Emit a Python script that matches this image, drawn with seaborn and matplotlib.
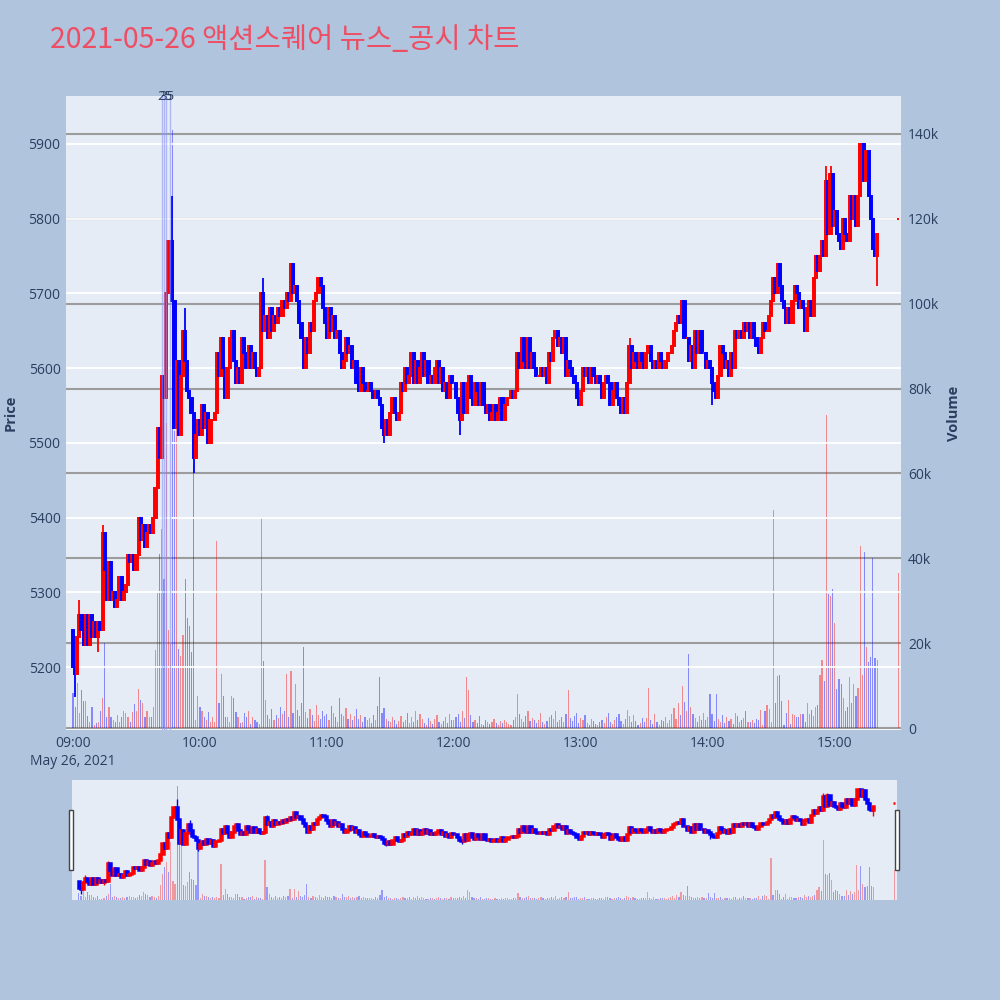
import matplotlib
matplotlib.use("Agg")
import matplotlib.pyplot as plt
from matplotlib.patches import Rectangle
import numpy as np
import pandas as pd
import seaborn as sns

# 1분봉 종가 (09:00 ~ 15:20)
closes = [
    5200, 5190, 5240, 5270, 5250, 5230, 5270, 5230, 5270, 5240,
    5260, 5240, 5260, 5250, 5380, 5330, 5290, 5340, 5290, 5300,
    5280, 5290, 5320, 5290, 5300, 5310, 5350, 5340, 5350, 5330,
    5350, 5400, 5370, 5390, 5360, 5380, 5390, 5380, 5400, 5440,
    5520, 5480, 5590, 5560, 5700, 5770, 5770, 5690, 5520, 5610,
    5510, 5590, 5650, 5610, 5570, 5560, 5540, 5480, 5510, 5530,
    5510, 5550, 5520, 5540, 5500, 5530, 5530, 5540, 5620, 5590,
    5640, 5600, 5560, 5600, 5640, 5650, 5610, 5580, 5600, 5580,
    5640, 5620, 5600, 5630, 5600, 5620, 5600, 5590, 5600, 5700,
    5650, 5670, 5640, 5680, 5650, 5670, 5660, 5680, 5670, 5690,
    5680, 5700, 5690, 5740, 5700, 5710, 5690, 5660, 5640, 5600,
    5640, 5620, 5660, 5650, 5690, 5700, 5720, 5710, 5680, 5660,
    5640, 5680, 5650, 5670, 5640, 5650, 5620, 5600, 5610, 5640,
    5620, 5630, 5600, 5610, 5580, 5570, 5600, 5580, 5570, 5570,
    5580, 5570, 5560, 5570, 5560, 5550, 5520, 5510, 5530, 5510,
    5540, 5560, 5540, 5530, 5540, 5580, 5570, 5600, 5580, 5590,
    5620, 5580, 5610, 5580, 5600, 5620, 5590, 5610, 5580, 5590,
    5580, 5600, 5610, 5580, 5600, 5570, 5580, 5560, 5590, 5580,
    5580, 5560, 5540, 5530, 5580, 5540, 5580, 5590, 5560, 5550,
    5580, 5570, 5550, 5580, 5550, 5540, 5550, 5530, 5540, 5550,
    5530, 5540, 5560, 5530, 5550, 5560, 5560, 5570, 5560, 5570,
    5620, 5600, 5640, 5610, 5600, 5640, 5600, 5620, 5600, 5590,
    5590, 5600, 5590, 5600, 5580, 5620, 5610, 5640, 5650, 5630,
    5640, 5620, 5640, 5590, 5610, 5600, 5590, 5580, 5560, 5550,
    5570, 5600, 5590, 5600, 5580, 5600, 5590, 5580, 5590, 5580,
    5560, 5580, 5590, 5580, 5550, 5570, 5580, 5560, 5550, 5540,
    5560, 5540, 5580, 5630, 5600, 5620, 5610, 5600, 5620, 5610,
    5600, 5620, 5630, 5610, 5600, 5610, 5600, 5620, 5610, 5600,
    5610, 5620, 5620, 5630, 5650, 5660, 5670, 5660, 5690, 5640,
    5640, 5610, 5630, 5600, 5650, 5620, 5650, 5620, 5620, 5600,
    5610, 5600, 5580, 5570, 5560, 5590, 5630, 5620, 5600, 5610,
    5590, 5620, 5600, 5650, 5640, 5650, 5640, 5660, 5650, 5660,
    5640, 5660, 5640, 5630, 5620, 5640, 5660, 5650, 5650, 5670,
    5690, 5720, 5700, 5740, 5710, 5690, 5680, 5660, 5680, 5660,
    5690, 5710, 5700, 5680, 5690, 5680, 5650, 5680, 5690, 5670,
    5720, 5750, 5730, 5750, 5770, 5750, 5850, 5780, 5860, 5790,
    5810, 5780, 5770, 5760, 5800, 5780, 5770, 5830, 5800, 5830,
    5790, 5830, 5900, 5900, 5850, 5890, 5830, 5800, 5760, 5750, 5780,
]
first_open = 5250
close_auction = 5800

# 꼬리 (분 index: 가격)
high_wicks = {3: 5290, 14: 5390, 47: 5830, 53: 5680, 90: 5720, 136: 5600,
              263: 5640, 288: 5690, 356: 5870, 358: 5870}
low_wicks = {1: 5160, 12: 5220, 57: 5460, 147: 5500, 150: 5510, 183: 5510,
             302: 5550, 380: 5710}

# 거래량 (천주)
volumes_k = [
    8.2, 5.0, 10.6, 3.5, 9.0, 6.3, 6.3, 2.8, 1.5, 4.9,
    0.7, 1.2, 1.5, 4.0, 7.0, 20.0, 2.7, 5.0, 2.7, 2.0,
    1.5, 3.0, 1.5, 2.7, 4.0, 3.5, 2.7, 1.5, 3.8, 5.7,
    4.0, 9.2, 6.6, 6.0, 2.7, 4.0, 2.7, 2.5, 5.0, 18.4,
    32.0, 41.0, 47.0, 35.0, 72.0, 23.0, 20.0, 141.0, 70.0, 72.0,
    18.7, 17.0, 22.0, 35.0, 26.0, 24.0, 18.0, 62.0, 2.0, 7.5,
    5.0, 4.0, 2.7, 2.0, 3.8, 1.5, 2.7, 1.5, 44.0, 6.0,
    12.7, 7.5, 2.7, 2.7, 1.5, 7.5, 7.0, 3.8, 2.7, 1.2,
    1.5, 3.5, 2.7, 4.0, 1.0, 2.7, 2.0, 1.5, 1.0, 49.8,
    15.9, 6.5, 3.0, 2.2, 4.5, 1.8, 3.1, 2.4, 5.0, 3.3,
    4.0, 12.7, 2.5, 13.5, 3.5, 10.3, 4.2, 2.8, 6.0, 19.0,
    3.8, 2.4, 4.5, 3.1, 1.6, 5.5, 3.0, 2.2, 4.1, 2.9,
    3.3, 2.0, 5.1, 3.6, 2.5, 1.4, 7.0, 3.2, 2.8, 4.6,
    2.1, 3.4, 1.8, 2.9, 4.4, 2.2, 3.0, 1.5, 2.6, 1.9,
    2.4, 1.2, 3.1, 2.0, 5.2, 12.0, 3.5, 4.8, 2.2, 1.7,
    1.3, 2.5, 1.8, 0.9, 1.6, 2.8, 1.4, 2.0, 3.6, 1.1,
    2.7, 1.5, 4.0, 1.9, 3.3, 2.1, 1.2, 0.8, 2.4, 1.6,
    1.0, 2.2, 3.0, 1.4, 0.9, 1.7, 2.5, 1.2, 3.4, 2.0,
    1.8, 2.6, 3.2, 1.5, 4.0, 2.3, 12.0, 9.0, 3.1, 1.4,
    2.0, 1.2, 2.8, 1.0, 0.7, 1.9, 1.5, 0.9, 1.3, 2.2,
    1.1, 0.8, 1.6, 1.2, 2.0, 1.4, 1.0, 0.7, 1.8, 2.6,
    8.0, 3.2, 2.1, 1.5, 2.8, 3.9, 1.6, 2.4, 1.8, 1.1,
    2.0, 3.5, 1.4, 0.9, 1.7, 2.6, 3.1, 2.2, 4.0, 1.3,
    1.9, 2.7, 1.5, 3.4, 9.0, 2.3, 1.6, 2.9, 3.5, 1.2,
    2.4, 1.8, 3.0, 1.1, 0.8, 2.2, 1.6, 1.0, 0.6, 1.4,
    2.0, 1.2, 2.7, 3.6, 1.5, 0.9, 1.8, 2.5, 3.2, 1.6,
    1.0, 2.1, 4.2, 2.8, 1.4, 3.0, 1.7, 0.8, 1.2, 2.3,
    1.5, 2.4, 9.5, 1.9, 1.0, 3.2, 1.3, 0.7, 2.0, 1.6,
    2.6, 1.2, 1.8, 3.4, 4.6, 2.2, 5.8, 3.0, 10.0, 6.2,
    4.1, 17.5, 5.0, 3.3, 2.4, 1.5, 2.9, 1.8, 3.6, 2.0,
    2.5, 8.0, 3.2, 1.7, 8.0, 2.1, 1.4, 3.0, 1.1, 2.6,
    1.6, 2.2, 0.9, 3.5, 2.8, 1.3, 1.9, 2.4, 3.9, 1.5,
    1.5, 1.8, 1.1, 2.1, 1.9, 4.2, 0.8, 4.0, 5.5, 4.5, 1.3,
    51.4, 5.8, 12.3, 12.5, 6.4, 0.8, 3.6, 6.5, 1.0, 3.3,
    3.0, 2.5, 2.6, 3.3, 3.3, 1.5, 5.8, 3.3, 4.2, 2.8,
    5.0, 5.4, 12.5, 16.0, 11.0,
    73.8, 31.6, 31.0, 32.7, 24.8, 9.2, 11.5, 10.4, 7.0, 4.0,
    5.0, 12.0, 5.8, 10.3, 7.5, 9.4, 43.0, 12.5, 41.5, 19.0,
    15.6, 16.8, 40.0, 16.4, 16.0,
]
close_auction_volume_k = 36.6

news_times = ["09:42", "09:43", "09:44", "09:46"]
news_labels = {"09:43": "25", "09:44": "35"}

hour_ticks = ["09:00", "10:00", "11:00", "12:00", "13:00", "14:00", "15:00"]
price_ticks = [5200, 5300, 5400, 5500, 5600, 5700, 5800, 5900]
vol_ticks = [0, 20000, 40000, 60000, 80000, 100000, 120000, 140000]
vol_tick_labels = ["0", "20k", "40k", "60k", "80k", "100k", "120k", "140k"]

assert len(closes) == len(volumes_k)

# ---- 데이터프레임 구성 ----
start = pd.Timestamp("2021-05-26 09:00")
times = list(pd.date_range(start, periods=len(closes), freq="min"))
times.append(pd.Timestamp("2021-05-26 15:30"))
df = pd.DataFrame({"time": times})
df["close"] = closes + [close_auction]
df["open"] = [first_open] + closes[:-1] + [close_auction]
df["volume"] = np.array(volumes_k + [close_auction_volume_k]) * 1000
df["minute"] = (df["time"] - start).dt.total_seconds() / 60
df["high"] = df[["open", "close"]].max(axis=1)
df["low"] = df[["open", "close"]].min(axis=1)
for i, v in high_wicks.items():
    df.loc[i, "high"] = max(df.loc[i, "high"], v)
for i, v in low_wicks.items():
    df.loc[i, "low"] = min(df.loc[i, "low"], v)
df["dir"] = np.where(df["close"] > df["open"], "up", "down")
df.loc[df["close"] == df["open"], "dir"] = "up"

UP = "#FF0000"
DOWN = "#0000FF"
colors = df["dir"].map({"up": UP, "down": DOWN})

TEXT = "#2a3f5f"
PLOT_BG = "#E5ECF6"
PAPER_BG = "#B0C4DE"

sns.set_theme(style="darkgrid")
plt.rcParams["font.family"] = ["Open Sans", "Noto Sans CJK KR", "DejaVu Sans"]

fig = plt.figure(figsize=(10, 10), dpi=100, facecolor=PAPER_BG)

xlim = (-3.3, 391.3)
price_lim = (5115.7, 5964.2)
vol_lim = (-470, 148950)


def draw_candles(ax, wick_lw, body_lw, body_w):
    ax.vlines(df["minute"], df["low"], df["high"], colors=colors, lw=wick_lw, zorder=3)
    body_bottom = df[["open", "close"]].min(axis=1)
    body_h = (df["close"] - df["open"]).abs()
    ax.bar(df["minute"], body_h, bottom=body_bottom, width=body_w, color=colors,
           edgecolor=colors, linewidth=body_lw, zorder=4)


def draw_volume(ax, alpha, width):
    sns.barplot(data=df, x="minute", y="volume", hue="dir", hue_order=["up", "down"],
                palette={"up": UP, "down": DOWN}, native_scale=True, dodge=False,
                width=width, alpha=alpha, saturation=1, errorbar=None, legend=False,
                linewidth=0, ax=ax)


# ---- 메인 차트 ----
ax = fig.add_axes([0.066, 0.270, 0.835, 0.634])
axv = ax.twinx()
axv.set_zorder(1)
ax.set_zorder(2)
ax.patch.set_visible(False)
axv.patch.set_visible(True)
axv.patch.set_facecolor(PLOT_BG)

draw_volume(axv, 0.42, 0.55)
axv.axhline(0, color="white", lw=2, zorder=0)
axv.set_ylim(*vol_lim)
axv.set_yticks(vol_ticks)
axv.set_yticklabels(vol_tick_labels)
axv.grid(axis="y", color="#9c9c9c", lw=1.5)
axv.grid(axis="x", visible=False)
axv.set_ylabel("")
axv.set_xlabel("")

draw_candles(ax, 1.3, 1.4, 1.0)
ax.set_ylim(*price_lim)
ax.set_yticks(price_ticks)
ax.grid(axis="y", color="white", lw=1.3)
ax.grid(axis="x", visible=False)

hour_minutes = [(pd.Timestamp("2021-05-26 " + h) - start).total_seconds() / 60 for h in hour_ticks]
ax.set_xticks(hour_minutes)
ax.set_xticklabels([hour_ticks[0] + "\nMay 26, 2021"] + hour_ticks[1:], linespacing=1.35)
ax.set_xlim(*xlim)
axv.set_xlim(*xlim)

# 뉴스/공시 표시선
for t in news_times:
    m = (pd.Timestamp("2021-05-26 " + t) - start).total_seconds() / 60
    ax.axvline(m, color="#8c96f5", lw=1.0, alpha=0.6, zorder=5)
    if t in news_labels:
        ax.text(m + 0.4, 1.0, news_labels[t], transform=ax.get_xaxis_transform(),
                ha="center", va="center", fontsize=9.5, color=TEXT, zorder=6)

for a in (ax, axv):
    for s in a.spines.values():
        s.set_visible(False)
    a.tick_params(length=0, colors=TEXT, labelsize=10)
ax.tick_params(axis="y", pad=4)
ax.tick_params(axis="x", pad=4)
axv.tick_params(axis="y", pad=5)

fig.text(0.011, 0.587, "Price", rotation=90, ha="center", va="center",
         fontsize=10.5, fontweight="bold", color=TEXT)
fig.text(0.954, 0.587, "Volume", rotation=90, ha="center", va="center",
         fontsize=10.5, fontweight="bold", color=TEXT)

fig.text(0.05, 0.960, "2021-05-26 액션스퀘어 뉴스_공시 차트", ha="left", va="center",
         fontsize=20.5, color="#EE4E64", family=["Noto Sans CJK KR", "DejaVu Sans"])

# ---- 레인지 슬라이더 ----
rs = fig.add_axes([0.072, 0.100, 0.825, 0.120])
rsv = rs.twinx()
rsv.set_zorder(1)
rs.set_zorder(2)
rs.patch.set_visible(False)
rsv.patch.set_visible(True)
rsv.patch.set_facecolor(PLOT_BG)
draw_volume(rsv, 0.35, 0.55)
rsv.set_ylim(*vol_lim)
draw_candles(rs, 1.0, 1.8, 1.0)
rs.set_ylim(*price_lim)
for a in (rs, rsv):
    a.set_xlim(*xlim)
    a.grid(False)
    a.set_xticks([])
    a.set_yticks([])
    a.set_xlabel("")
    a.set_ylabel("")
    for s in a.spines.values():
        s.set_visible(False)

for hx in (0.069, 0.895):
    fig.patches.append(Rectangle((hx, 0.130), 0.004, 0.060, transform=fig.transFigure,
                                 facecolor="white", edgecolor="#444444", lw=1.0))

fig.savefig("out.png", dpi=100, facecolor=fig.get_facecolor())
